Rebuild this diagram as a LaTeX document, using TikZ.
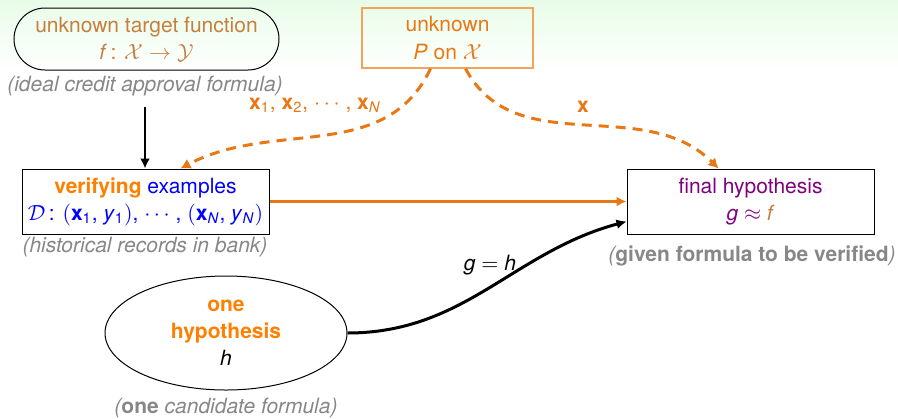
\documentclass[tikz,border=0pt]{standalone}
\usepackage{fontspec}
\setmainfont{TeX Gyre Heros}
\setsansfont{TeX Gyre Heros}
\usetikzlibrary{arrows.meta,shapes.geometric}
\definecolor{bgtop}{RGB}{232,252,232}
\definecolor{tanc}{RGB}{196,128,64}
\definecolor{orgc}{RGB}{232,120,20}
\definecolor{orgb}{RGB}{240,165,90}
\definecolor{vorange}{RGB}{255,128,0}
\definecolor{capgray}{RGB}{135,135,135}
\definecolor{purp}{RGB}{128,0,128}
\newcommand\sbx[1]{\textsubscript{\textit{#1}}}
\begin{document}
\begin{tikzpicture}[x=0.5pt,y=-0.5pt,
  every node/.style={font=\fontsize{10.5}{13.5}\selectfont, align=center, inner sep=0pt},
  boxst/.style={draw, line width=0.5pt, minimum width=123.5pt, minimum height=32.5pt},
  capst/.style={text=capgray, font=\fontsize{10.5}{13.5}\selectfont\itshape},
  dasharrow/.style={draw=orgc, line width=1.5pt, dash pattern=on 5pt off 3.5pt, -{Latex[length=5pt,width=5.5pt]}},
  lblst/.style={text=orgc}
]
\useasboundingbox (0,0) rectangle (898,418);
\shade[top color=bgtop, bottom color=white] (0,0) rectangle (898,70);
\fill[white] (0,70) rectangle (898,418);

\node[draw, line width=0.5pt, rounded corners=15.5pt, minimum width=132.5pt, minimum height=31pt, text=tanc] (target) at (146.5,39)
  {unknown target function\\ \textit{f}\,: $\mathcal{X}\rightarrow\mathcal{Y}$};
\node[capst] (cap1) at (145,86) {(ideal credit approval formula)};

\node[draw=orgb, line width=0.6pt, minimum width=85.5pt, minimum height=30pt, text=orgc] (pbox) at (447.5,38)
  {unknown\\ \textit{P} on $\mathcal{X}$};

\node[boxst, text=blue] (data) at (145.5,201.5)
  {\textcolor{vorange}{\textbf{verifying}} examples\\ $\mathcal{D}$\,: $($\textbf{x}\textsubscript{1}, \textit{y}\textsubscript{1}$)$, $\cdots$ , $($\textbf{x}\sbx{N}, \textit{y}\sbx{N}$)$};
\node[capst] (cap2) at (145,247) {(historical records in bank)};

\node[boxst, text=purp] (final) at (750.5,201.5)
  {final hypothesis\\ \textit{g} $\approx$ \textcolor{tanc}{\textit{f}}};
\node[capst] (cap3) at (752,256) {(\textbf{\upshape given formula to be verified})};

\node[draw, ellipse, line width=0.5pt, minimum width=121pt, minimum height=57pt] (hyp) at (226,333)
  {\textcolor{vorange}{\textbf{one}}\\ \textcolor{vorange}{\textbf{hypothesis}}\\ \textit{h}};
\node[capst] (cap4) at (226,408) {(\textbf{\upshape one} candidate formula)};

\draw[line width=1.1pt, -{Latex[length=5pt,width=5pt]}] ([yshift=-5.5pt]cap1.south) -- (cap1.south |- data.north);

\draw[dasharrow] ([xshift=-8.5pt]pbox.south) to[out=-115,in=28] ([xshift=17.5pt]data.north);
\node[lblst] (xslbl) at (315,105) {\textbf{x}\textsubscript{1}, \textbf{x}\textsubscript{2}, $\cdots$ , \textbf{x}\sbx{N}};
\draw[dasharrow] ([xshift=9pt]pbox.south) to[out=-62,in=135] ([xshift=-16pt]final.north);
\node[lblst] (xlbl) at (583,107) {\textbf{x}};

\draw[draw=orgc, line width=1.1pt, -{Latex[length=5pt,width=5pt]}] (data.east) -- (final.west);

\draw[line width=1.5pt, -{Latex[length=5pt,width=5pt]}] (hyp.east) to[out=0,in=195] ([yshift=-10pt]final.west);
\node (gh) at (490,265) {\textit{g} $=$ \textit{h}};
\end{tikzpicture}
\end{document}
